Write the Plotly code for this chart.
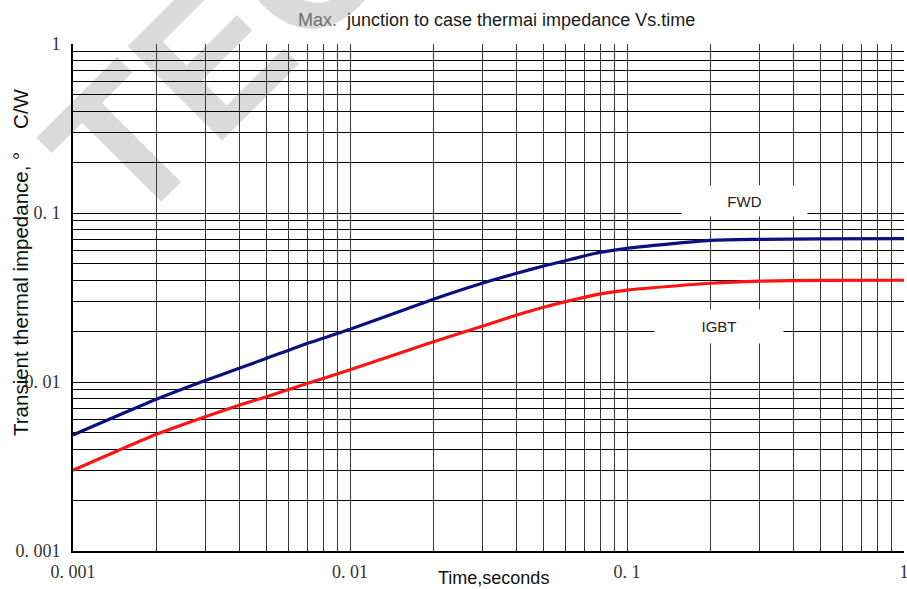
import plotly.graph_objects as go

# ---- data ----
time_s = [0.001, 0.002, 0.003, 0.004, 0.005, 0.007, 0.01, 0.02, 0.03, 0.04,
          0.05, 0.06, 0.07, 0.08, 0.1, 0.2, 0.3, 0.5, 1.0]
fwd_z = [0.00486, 0.0079, 0.0102, 0.0121, 0.0138, 0.0169, 0.0205, 0.0309, 0.0384, 0.0440,
         0.0486, 0.0522, 0.0557, 0.0585, 0.0618, 0.0688, 0.0698, 0.0702, 0.0705]
igbt_z = [0.00300, 0.0049, 0.00623, 0.00731, 0.00819, 0.0098, 0.0118, 0.0173, 0.0214, 0.0249,
          0.0277, 0.0299, 0.0317, 0.0332, 0.0350, 0.0384, 0.0395, 0.0399, 0.0400]

x_decades = [0.001, 0.01, 0.1, 1]
x_tick_text = ["0. 001", "0. 01", "0. 1", "1"]
y_decades = [0.001, 0.01, 0.1, 1]
y_tick_text = ["0. 001", "0. 01", "0. 1", "1"]

title_grey = "Max."
title_rest = "junction to case thermai impedance Vs.time"
x_title = "Time,seconds"
y_title = "Transient thermal impedance, \u00b0&nbsp;&nbsp;&nbsp; C/W"
watermark = "TEC"


def log_grid(decades, labels):
    vals, texts = [], []
    for i, d in enumerate(decades):
        vals.append(d)
        texts.append(labels[i])
        if i < len(decades) - 1:
            for m in range(2, 10):
                vals.append(d * m)
                texts.append("")
    return vals, texts


xv, xt = log_grid(x_decades, x_tick_text)
yv, yt = log_grid(y_decades, y_tick_text)

W, H = 907, 589
L, R, T, B = 73, 3, 44, 38
pw, ph = W - L - R, H - T - B


def px(x):
    return (x - L) / pw


def py(y):
    return (H - B - y) / ph


fig = go.Figure()
fig.add_trace(go.Scatter(x=time_s, y=fwd_z, mode="lines", name="FWD",
                         line=dict(color="#0a1080", width=3.2, shape="spline", smoothing=0.6)))
fig.add_trace(go.Scatter(x=time_s, y=igbt_z, mode="lines", name="IGBT",
                         line=dict(color="#ff1414", width=3.2, shape="spline", smoothing=0.6)))

tickfont = dict(family="Liberation Serif", size=18, color="#333333")
fig.update_xaxes(type="log", range=[-3, 0], tickvals=xv, ticktext=xt,
                 showgrid=True, gridcolor="#3a3a3a", gridwidth=1,
                 showline=True, linecolor="#000000", linewidth=2,
                 ticks="", tickfont=tickfont, ticklabelstandoff=3,
                 ticklabeloverflow="allow", automargin=False, zeroline=False)
fig.update_yaxes(type="log", range=[-3, 0], tickvals=yv, ticktext=yt,
                 showgrid=True, gridcolor="#000000", gridwidth=1,
                 showline=True, linecolor="#000000", linewidth=2,
                 ticks="", tickfont=tickfont, ticklabelstandoff=7,
                 automargin=False, zeroline=False)

# watermark behind the grid
fig.add_shape(type="rect", xref="paper", yref="paper",
              x0=px(206) - 0.001, x1=px(206) + 0.001, y0=py(36) - 0.001, y1=py(36) + 0.001,
              line=dict(width=0), fillcolor="rgba(0,0,0,0)", layer="below",
              label=dict(text=watermark, textangle=-45, textposition="middle center",
                         font=dict(family="Liberation Sans", size=194, color="#dadada", weight="bold")))

ann_font = dict(family="Liberation Sans", size=15, color="#222222")
fig.add_annotation(xref="paper", yref="paper", x=px(744.5), y=py(201), text="FWD",
                   showarrow=False, bgcolor="#ffffff", width=125, height=30, borderpad=0,
                   font=ann_font, xanchor="center", yanchor="middle")
fig.add_annotation(xref="paper", yref="paper", x=px(719), y=py(326), text="IGBT",
                   showarrow=False, bgcolor="#ffffff", width=128, height=33, borderpad=0,
                   font=ann_font, xanchor="center", yanchor="middle")

fig.add_annotation(xref="paper", yref="paper", x=px(496), y=py(20),
                   text="<span style='color:#707070'>" + title_grey + "</span>&nbsp; " + title_rest,
                   showarrow=False, font=dict(family="Liberation Sans", size=18, color="#1a1a1a"),
                   xanchor="center", yanchor="middle")
fig.add_annotation(xref="paper", yref="paper", x=px(494), y=py(578), text=x_title,
                   showarrow=False, font=dict(family="Liberation Sans", size=18, color="#111111"),
                   xanchor="center", yanchor="middle")
fig.add_annotation(xref="paper", yref="paper", x=px(20), y=py(262), text=y_title,
                   showarrow=False, textangle=-90,
                   font=dict(family="Liberation Sans", size=20.5, color="#111111"),
                   xanchor="center", yanchor="middle")

fig.update_layout(width=W, height=H, margin=dict(l=L, r=R, t=T, b=B, autoexpand=False),
                  paper_bgcolor="#ffffff", plot_bgcolor="rgba(0,0,0,0)",
                  showlegend=False)

fig.write_html("out.html")
